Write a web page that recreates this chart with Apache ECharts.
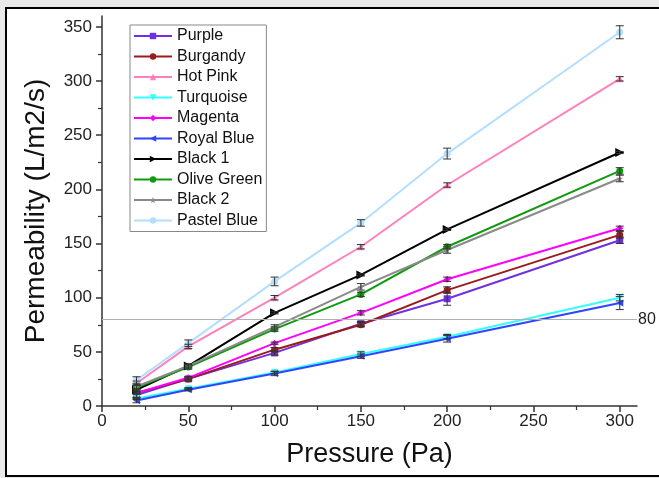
<!DOCTYPE html>
<html>
<head>
<meta charset="utf-8">
<script src="https://cdn.jsdelivr.net/npm/echarts@6/dist/echarts.min.js"></script>
<style>
  html, body { margin: 0; padding: 0; background: #e9e9e9; }
  #frame { position: absolute; left: 5px; top: 7px; width: 700px; height: 466px; border: 2px solid #000; background: #fff; }
  #main { position: absolute; left: 0; top: 0; width: 659px; height: 478px; }
</style>
</head>
<body>
<div id="frame"></div>
<div id="main"></div>
<script>
// 数据
var pressure = [20, 50, 100, 150, 200, 300];
var names = ['Purple', 'Burgandy', 'Hot Pink', 'Turquoise', 'Magenta', 'Royal Blue', 'Black 1', 'Olive Green', 'Black 2', 'Pastel Blue'];
var colors = ['#7030e0', '#9a1c1c', '#ff80bb', '#33ffff', '#ff00ff', '#2f45ff', '#000000', '#109a10', '#8a8a8a', '#b3deff'];

var purple     = [10, 25, 49, 76, 99, 153];
var burgandy   = [12, 25, 52, 75, 107, 158];
var hotPink    = [21, 55, 100, 147, 204, 302];
var turquoise  = [7, 16, 31, 48, 64, 100];
var magenta    = [12, 26, 58, 86, 117, 164];
var royalBlue  = [5, 15, 30, 46, 62, 95];
var black1     = [15, 37, 86, 121, 163, 234];
var oliveGreen = [17, 36, 71, 103, 147, 217];
var black2     = [18, 37, 73, 110, 144, 210];
var pastelBlue = [24, 58, 115, 169, 233, 345];
var values = [purple, burgandy, hotPink, turquoise, magenta, royalBlue, black1, oliveGreen, black2, pastelBlue];

// 误差
var errors = [
  [2, 2, 2, 2, 6, 3],
  [1, 1, 2, 2, 3, 3],
  [2, 2, 2, 2, 2, 2],
  [1, 1, 1, 2, 2, 3],
  [1, 1, 1, 2, 2, 2],
  [2, 1, 2, 2, 3, 6],
  [1, 1, 1, 1, 1, 1],
  [2, 2, 2, 2, 2, 3],
  [2, 2, 2, 3, 3, 3],
  [3, 3, 4, 3, 5, 6]
];

var xTicks = [0, 50, 100, 150, 200, 250, 300];
var xMinor = [25, 75, 125, 175, 225, 275];
var yTicks = [0, 50, 100, 150, 200, 250, 300, 350];
var yMinor = [25, 75, 125, 175, 225, 275, 325];
var refLine = 80;

var symbols = [
  'rect',
  'circle',
  'triangle',
  'path://M0,0L10,0L5,10Z',
  'diamond',
  'path://M10,0L10,10L0,5Z',
  'path://M0,0L0,10L10,5Z',
  'circle',
  'path://M5,0L6.2,3.6L10,3.6L6.9,5.9L8.1,9.5L5,7.3L1.9,9.5L3.1,5.9L0,3.6L3.8,3.6Z',
  'circle'
];

var myChart = echarts.init(document.getElementById('main'));

var series = [];
names.forEach(function (name, i) {
  series.push({
    name: name,
    type: 'line',
    data: pressure.map(function (p, j) { return [p, values[i][j]]; }),
    symbol: symbols[i],
    symbolSize: i == 6 ? 9 : 7,
    color: colors[i],
    lineStyle: { width: 2 },
    z: 3,
    markLine: i == 0 ? {
      silent: true,
      symbol: 'none',
      lineStyle: { color: '#b0b0b0', type: 'solid', width: 1.2 },
      label: { position: 'end', formatter: '80', fontSize: 16, color: '#222', distance: 1 },
      data: [{ yAxis: refLine }]
    } : undefined
  });
  series.push({
    type: 'custom',
    z: 4,
    data: pressure.map(function (p, j) { return [p, values[i][j] - errors[i][j], values[i][j] + errors[i][j]]; }),
    encode: { x: 0, y: [1, 2] },
    renderItem: function (params, api) {
      var lo = api.coord([api.value(0), api.value(1)]);
      var hi = api.coord([api.value(0), api.value(2)]);
      var w = 4;
      var st = { stroke: '#333', lineWidth: 1 };
      return {
        type: 'group',
        children: [
          { type: 'line', shape: { x1: lo[0], y1: lo[1], x2: hi[0], y2: hi[1] }, style: st },
          { type: 'line', shape: { x1: lo[0] - w, y1: lo[1], x2: lo[0] + w, y2: lo[1] }, style: st },
          { type: 'line', shape: { x1: hi[0] - w, y1: hi[1], x2: hi[0] + w, y2: hi[1] }, style: st }
        ]
      };
    }
  });
});

var axisLine = { lineStyle: { color: '#333', width: 1.5 } };

var option = {
  animation: false,
  grid: { left: 102, right: 22, top: 16, bottom: 72 },
  legend: {
    data: names,
    orient: 'vertical',
    left: 130,
    top: 25,
    padding: [3, 4, 3, 3],
    itemWidth: 38,
    itemHeight: 8,
    itemGap: 4.5,
    backgroundColor: '#fff',
    borderColor: '#888',
    borderWidth: 1,
    borderRadius: 0,
    textStyle: { fontFamily: 'Liberation Sans, Arial', fontSize: 16, lineHeight: 16, color: '#111' }
  },
  xAxis: [{
    type: 'value',
    min: 0,
    max: 310,
    name: 'Pressure (Pa)',
    nameLocation: 'middle',
    nameGap: 35,
    nameTextStyle: { fontFamily: 'Liberation Sans, Arial', fontSize: 27, color: '#111' },
    axisLine: axisLine,
    axisTick: { show: true, length: 6, customValues: xTicks, lineStyle: { color: '#333', width: 1.5 } },
    axisLabel: { customValues: xTicks, fontFamily: 'Liberation Sans, Arial', fontSize: 17, color: '#222', margin: 7 },
    splitLine: { show: false }
  }, {
    type: 'value',
    min: 0,
    max: 310,
    position: 'bottom',
    axisLine: { show: false },
    axisTick: { show: true, length: 4, customValues: xMinor, lineStyle: { color: '#333', width: 1.2 } },
    axisLabel: { show: false },
    splitLine: { show: false }
  }],
  yAxis: [{
    type: 'value',
    min: 0,
    max: 360,
    name: 'Permeability (L/m2/s)',
    nameLocation: 'middle',
    nameGap: 52,
    nameTextStyle: { fontFamily: 'Liberation Sans, Arial', fontSize: 28, color: '#111' },
    axisLine: Object.assign({ show: true }, axisLine),
    axisTick: { show: true, length: 6, customValues: yTicks, lineStyle: { color: '#333', width: 1.5 } },
    axisLabel: { customValues: yTicks, fontFamily: 'Liberation Sans, Arial', fontSize: 17, color: '#222', margin: 10 },
    splitLine: { show: false }
  }, {
    type: 'value',
    min: 0,
    max: 360,
    position: 'left',
    axisLine: { show: false },
    axisTick: { show: true, length: 4, customValues: yMinor, lineStyle: { color: '#333', width: 1.2 } },
    axisLabel: { show: false },
    splitLine: { show: false }
  }],
  series: series
};

myChart.setOption(option);
</script>
</body>
</html>
